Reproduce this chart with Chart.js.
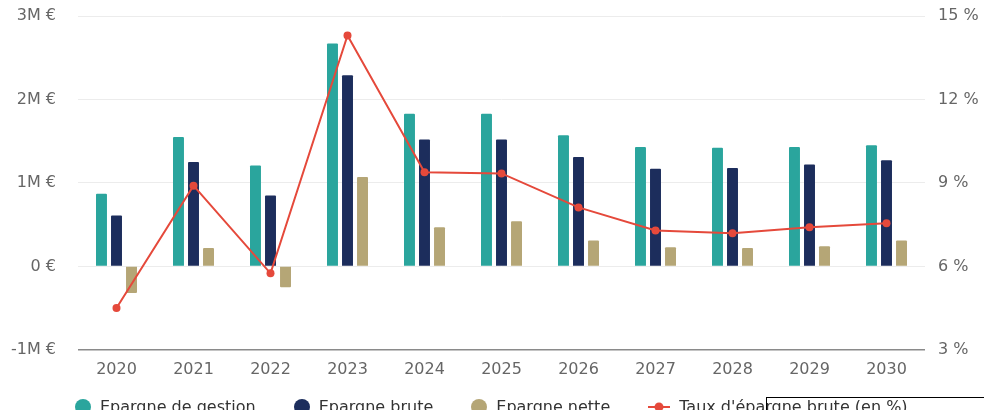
<!DOCTYPE html>
<html>
<head>
<meta charset="utf-8">
<script src="https://cdn.jsdelivr.net/npm/chart.js@4/dist/chart.umd.min.js"></script>
<style>
    html, body { margin: 0; padding: 0; background: #fff; overflow: hidden; }
    #wrap { position: relative; width: 984px; height: 410px; }
    #legend { position: absolute; left: 75px; top: 397px; display: flex; gap: 38px;
              font: 16px 'DejaVu Sans'; color: #333; line-height: 19px; white-space: nowrap; }
    #legend .item { display: flex; align-items: center; gap: 9px; }
    #legend .dot { width: 16px; height: 16px; border-radius: 50%; }
    #legend canvas { display: block; }
    #frame { position: absolute; left: 766px; top: 397px; width: 400px; height: 100px; border: 1px solid #000; }
</style>
</head>
<body>
<div id="wrap">
    <canvas id="epargne"></canvas>
    <div id="legend"></div>
    <div id="frame"></div>
</div>
<script>
const years = ['2020', '2021', '2022', '2023', '2024', '2025', '2026', '2027', '2028', '2029', '2030'];

// euros
const epargneGestion = [870000, 1550000, 1210000, 2670000, 1830000, 1830000, 1570000, 1430000, 1420000, 1430000, 1450000];
const epargneBrute = [610000, 1250000, 850000, 2290000, 1520000, 1520000, 1310000, 1170000, 1180000, 1220000, 1270000];
const epargneNette = [-320000, 220000, -250000, 1070000, 470000, 540000, 310000, 230000, 220000, 240000, 310000];

// %
const tauxEpargne = [4.5, 8.9, 5.75, 14.3, 9.38, 9.34, 8.12, 7.29, 7.19, 7.41, 7.55];

const leftTicks = [-1000000, 0, 1000000, 2000000, 3000000];
const rightTicks = [3, 6, 9, 12, 15];

const teal = '#2aa59d';
const navy = '#1c2d5c';
const tan = '#b5a676';
const red = '#e5493b';

// legend built from the chart's own datasets
const htmlLegend = {
    id: 'htmlLegend',
    afterUpdate(chart) {
        const box = document.getElementById('legend');
        box.innerHTML = '';
        chart.data.datasets.forEach(ds => {
            const item = document.createElement('div');
            item.className = 'item';
            if (ds.type === 'line') {
                const c = document.createElement('canvas');
                c.width = 22;
                c.height = 12;
                const g = c.getContext('2d');
                g.strokeStyle = ds.borderColor;
                g.lineWidth = 2;
                g.beginPath();
                g.moveTo(0, 6);
                g.lineTo(22, 6);
                g.stroke();
                g.fillStyle = ds.borderColor;
                g.beginPath();
                g.arc(11, 6, 4.5, 0, Math.PI * 2);
                g.fill();
                item.appendChild(c);
            } else {
                const dot = document.createElement('span');
                dot.className = 'dot';
                dot.style.background = ds.backgroundColor;
                item.appendChild(dot);
            }
            const txt = document.createElement('span');
            txt.textContent = ds.label;
            item.appendChild(txt);
            box.appendChild(item);
        });
    }
};

Chart.defaults.font.family = 'DejaVu Sans';
Chart.defaults.font.size = 16;
Chart.defaults.color = '#666';

const ctx = document.getElementById('epargne').getContext('2d');

new Chart(ctx, {
    data: {
        labels: years,
        datasets: [{
            type: 'bar',
            label: 'Epargne de gestion',
            data: epargneGestion,
            backgroundColor: teal,
            yAxisID: 'y',
            order: 1
        }, {
            type: 'bar',
            label: 'Epargne brute',
            data: epargneBrute,
            backgroundColor: navy,
            yAxisID: 'y',
            order: 1
        }, {
            type: 'bar',
            label: 'Epargne nette',
            data: epargneNette,
            backgroundColor: tan,
            yAxisID: 'y',
            order: 1
        }, {
            type: 'line',
            label: "Taux d'épargne brute (en %)",
            data: tauxEpargne,
            borderColor: red,
            backgroundColor: red,
            borderWidth: 2,
            pointRadius: 4,
            pointStyle: 'circle',
            pointBackgroundColor: red,
            pointBorderWidth: 0,
            tension: 0,
            yAxisID: 'y1',
            order: 0
        }]
    },
    options: {
        responsive: true,
        maintainAspectRatio: false,
        animation: false,
        datasets: {
            bar: {
                categoryPercentage: 0.585,
                barPercentage: 0.73,
                borderRadius: 1
            }
        },
        layout: {
            padding: { left: 10, right: 4, top: 16, bottom: 21 }
        },
        scales: {
            x: {
                grid: { display: false, drawTicks: false },
                border: { display: false },
                ticks: { padding: 10, color: '#666' }
            },
            y: {
                position: 'left',
                min: -1000000,
                max: 3000000,
                afterBuildTicks: axis => { axis.ticks = leftTicks.map(v => ({ value: v })); },
                afterFit: axis => { axis.width = 68; },
                grid: {
                    drawTicks: true,
                    tickLength: 22,
                    tickColor: 'rgba(0,0,0,0)',
                    color: c => c.tick && c.tick.value === -1000000 ? '#8a8a8a' : '#ececec',
                    lineWidth: c => c.tick && c.tick.value === -1000000 ? 1.5 : 1
                },
                border: { display: false },
                ticks: {
                    padding: 0,
                    callback: value => value === 0 ? '0 €' : (value / 1000000) + 'M €'
                }
            },
            y1: {
                position: 'right',
                min: 3,
                max: 15,
                afterBuildTicks: axis => { axis.ticks = rightTicks.map(v => ({ value: v })); },
                afterFit: axis => { axis.width = 55; },
                grid: {
                    drawOnChartArea: false,
                    drawTicks: true,
                    tickLength: 13,
                    tickColor: 'rgba(0,0,0,0)'
                },
                border: { display: false },
                ticks: {
                    padding: 0,
                    callback: value => value + ' %'
                }
            }
        },
        plugins: {
            tooltip: { enabled: false },
            legend: { display: false }
        }
    },
    plugins: [htmlLegend]
});
</script>
</body>
</html>
